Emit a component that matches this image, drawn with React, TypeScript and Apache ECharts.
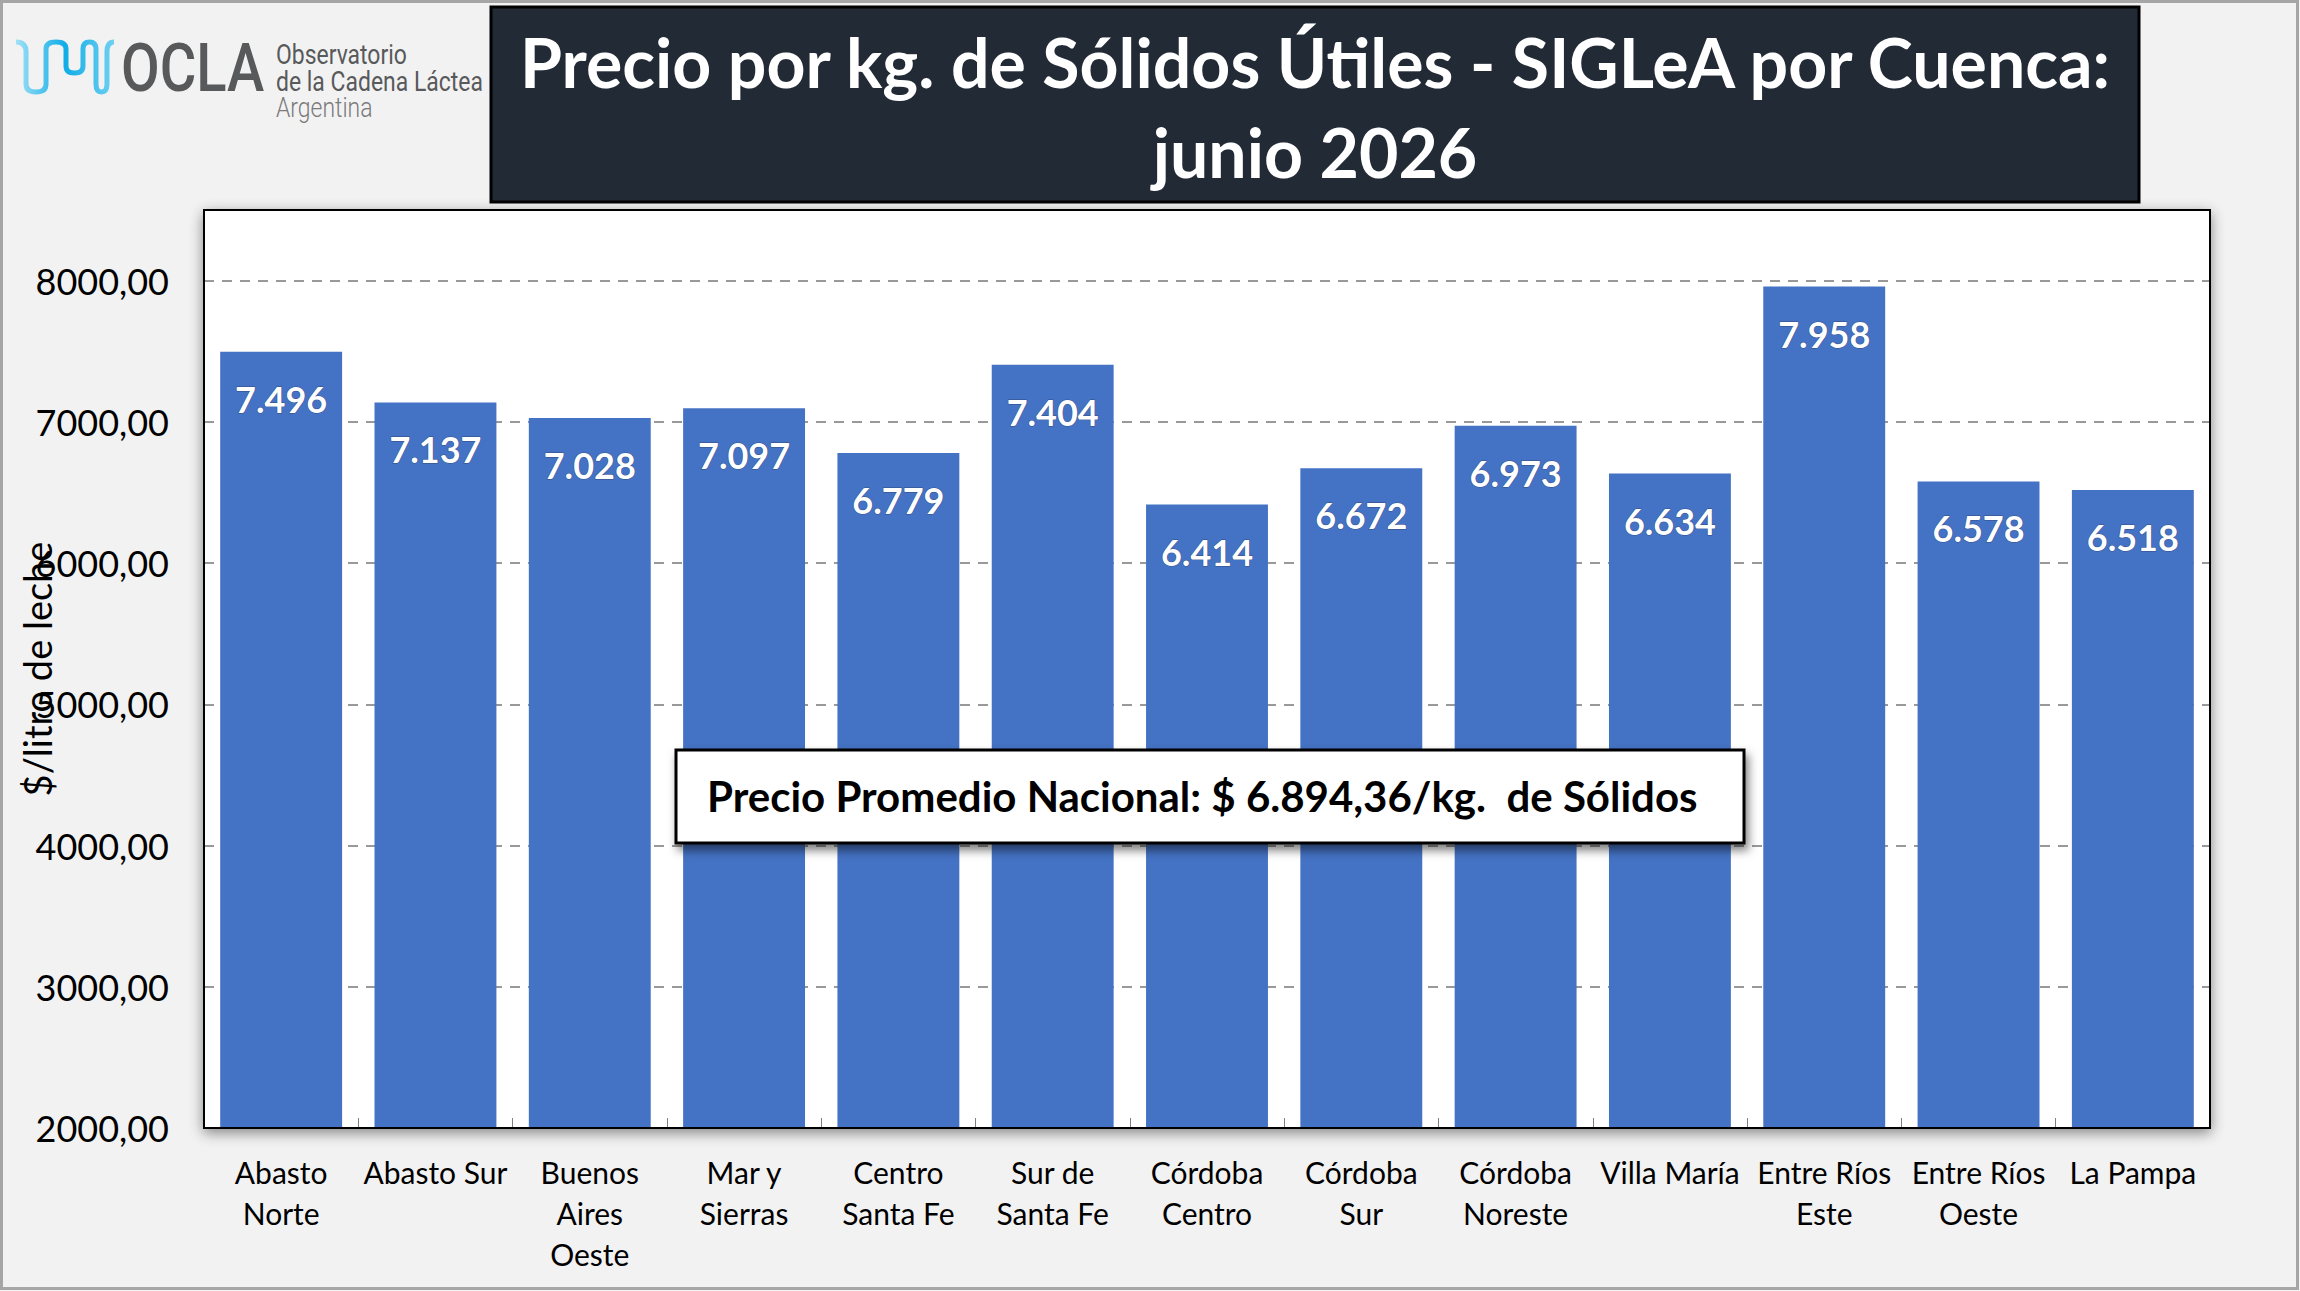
import React, { useEffect, useRef } from "react";
import * as echarts from "echarts";

// cuencas lecheras (eje x)
const categories = [
  "Abasto\nNorte",
  "Abasto Sur",
  "Buenos\nAires\nOeste",
  "Mar y\nSierras",
  "Centro\nSanta Fe",
  "Sur de\nSanta Fe",
  "Córdoba\nCentro",
  "Córdoba\nSur",
  "Córdoba\nNoreste",
  "Villa María",
  "Entre Ríos\nEste",
  "Entre Ríos\nOeste",
  "La Pampa",
];

// precio por kg de sólidos útiles
const values = [7496, 7137, 7028, 7097, 6779, 7404, 6414, 6672, 6973, 6634, 7958, 6578, 6518];

const titleLines = ["Precio por kg. de Sólidos Útiles - SIGLeA por Cuenca:", "junio 2026"];
const avgLabel = "Precio Promedio Nacional: $ 6.894,36/kg.  de Sólidos";
const yAxisName = "$/litro de leche";
const logoLines = ["Observatorio", "de la Cadena Láctea", "Argentina"];

const FONT = "Lato, 'Open Sans', sans-serif";

const waveD =
  "M16,42 Q26,42 26,52 L26,84 Q26,92 36,92 Q46,92 46,84 L46,49 Q46,42 56,42 Q66,42 66,49 L66,66 Q66,73 74.5,73 Q83,73 83,66 L83,49 Q83,42 89.5,42 Q96,42 96,49 L96,84 Q96,92 101.5,92 Q107,92 107,84 L107,52 Q107,42 114,42";

let registered = false;

const thousands = (v: number) => String(Math.round(v)).replace(/\B(?=(\d{3})+(?!\d))/g, ".");

// rectángulo del área de gráfico
const G = { left: 204, top: 210, right: 90, bottom: 163 };

const App: React.FC = () => {
  const chartRef = useRef<HTMLDivElement>(null);

  useEffect(() => {
    document.body.style.margin = "0";
    if (!chartRef.current) return;
    if (!registered) {
      echarts.graphic.registerShape("logo", echarts.graphic.extendPath(waveD, {}));
      registered = true;
    }
    const chart = echarts.init(chartRef.current, undefined, { renderer: "svg" });

    const option = {
      animation: false,
      backgroundColor: "#f2f2f2",
      grid: {
        ...G,
        outerBoundsMode: "none",
        containLabel: false,
        show: true,
        backgroundColor: "#ffffff",
        borderColor: "#000000",
        borderWidth: 2,
        shadowColor: "rgba(0,0,0,0.45)",
        shadowBlur: 14,
        shadowOffsetY: 4,
      },
      xAxis: {
        type: "category",
        data: categories,
        axisLine: { show: true, lineStyle: { color: "#000", width: 2 } },
        axisTick: { show: true, inside: true, length: 10, lineStyle: { color: "#808080" } },
        axisLabel: {
          interval: 0,
          color: "#000",
          fontFamily: FONT,
          fontSize: 30,
          lineHeight: 41,
          margin: 23,
        },
      },
      yAxis: {
        type: "value",
        min: 2000,
        max: 8500,
        interval: 1000,
        name: yAxisName,
        nameLocation: "middle",
        nameGap: 148,
        nameMoveOverlap: false,
        nameTextStyle: { color: "#000", fontFamily: FONT, fontSize: 38 },
        axisLine: { show: false },
        axisTick: { show: false },
        axisLabel: {
          color: "#000",
          fontFamily: FONT,
          fontSize: 36,
          margin: 35,
          showMaxLabel: false,
          formatter: (v: number) => (v > 8000 ? "" : v.toFixed(2).replace(".", ",")),
        },
        splitLine: { show: true, lineStyle: { color: "#999", type: [10, 8], width: 2 } },
      },
      series: [
        {
          type: "bar",
          data: values,
          barCategoryGap: "21%",
          itemStyle: { color: "#4472c4" },
          label: {
            show: true,
            position: "insideTop",
            distance: 29,
            color: "#fff",
            fontFamily: FONT,
            fontWeight: "bold",
            fontSize: 36,
            textBorderColor: "rgba(30,40,70,0.5)",
            textBorderWidth: 1,
            formatter: (p: any) => thousands(p.value),
          },
        },
      ],
      graphic: [
        // borde del área de gráfico (sobre la línea de 8500)
        {
          type: "rect",
          z: 50,
          shape: { x: G.left, y: G.top, width: 2300 - G.left - G.right, height: 1291 - G.top - G.bottom },
          style: { fill: "none", stroke: "#000", lineWidth: 2 },
        },
        // marco exterior
        {
          type: "rect",
          z: 100,
          shape: { x: 1.5, y: 1.5, width: 2296, height: 1287 },
          style: { fill: "none", stroke: "#a6a6a6", lineWidth: 3 },
        },
        // caja del título
        {
          type: "rect",
          z: 100,
          shape: { x: 491, y: 7, width: 1648, height: 195 },
          style: { fill: "#222a35", stroke: "#000", lineWidth: 3 },
        },
        {
          type: "text",
          z: 101,
          style: {
            text: titleLines.join("\n"),
            x: 1315,
            y: 106,
            align: "center",
            verticalAlign: "middle",
            fill: "#fff",
            font: `bold 68px ${FONT}`,
            lineHeight: 90,
          },
        },
        // logo OCLA
        {
          type: "logo",
          z: 100,
          x: 0,
          y: 0,
          style: {
            fill: "none",
            stroke: new echarts.graphic.LinearGradient(0, 0, 1, 0, [
              { offset: 0, color: "#9fe0f6" },
              { offset: 0.5, color: "#10ade6" },
              { offset: 1, color: "#6fd0f2" },
            ]),
            lineWidth: 5,
          },
        },
        {
          type: "text",
          z: 100,
          x: 121,
          y: 68,
          scaleX: 0.85,
          style: {
            text: "OCLA",
            x: 0,
            y: 0,
            verticalAlign: "middle",
            fill: "#58595b",
            font: "500 66px Roboto, sans-serif",
          },
        },
        ...logoLines.map((t, i) => ({
          type: "text",
          z: 100,
          x: 276,
          y: [55, 82, 108][i],
          scaleX: 0.85,
          style: {
            text: t,
            x: 0,
            y: 0,
            verticalAlign: "middle",
            fill: i === 2 ? "#7a7a7a" : "#58595b",
            font: `${i === 2 ? 300 : 400} 27px Roboto, sans-serif`,
          },
        })),
        // recuadro del promedio nacional
        {
          type: "rect",
          z: 100,
          shape: { x: 676, y: 750, width: 1068, height: 93 },
          style: {
            fill: "#fff",
            stroke: "#000",
            lineWidth: 3,
            shadowColor: "rgba(0,0,0,0.5)",
            shadowBlur: 10,
            shadowOffsetX: 3,
            shadowOffsetY: 6,
          },
        },
        {
          type: "text",
          z: 101,
          style: {
            text: avgLabel,
            x: 707,
            y: 796,
            verticalAlign: "middle",
            fill: "#000",
            font: `bold 42px ${FONT}`,
          },
        },
      ],
    };

    chart.setOption(option as any);

    return () => {
      chart.dispose();
    };
  }, []);

  return <div ref={chartRef} style={{ width: "2300px", height: "1291px" }} />;
};

export default App;
